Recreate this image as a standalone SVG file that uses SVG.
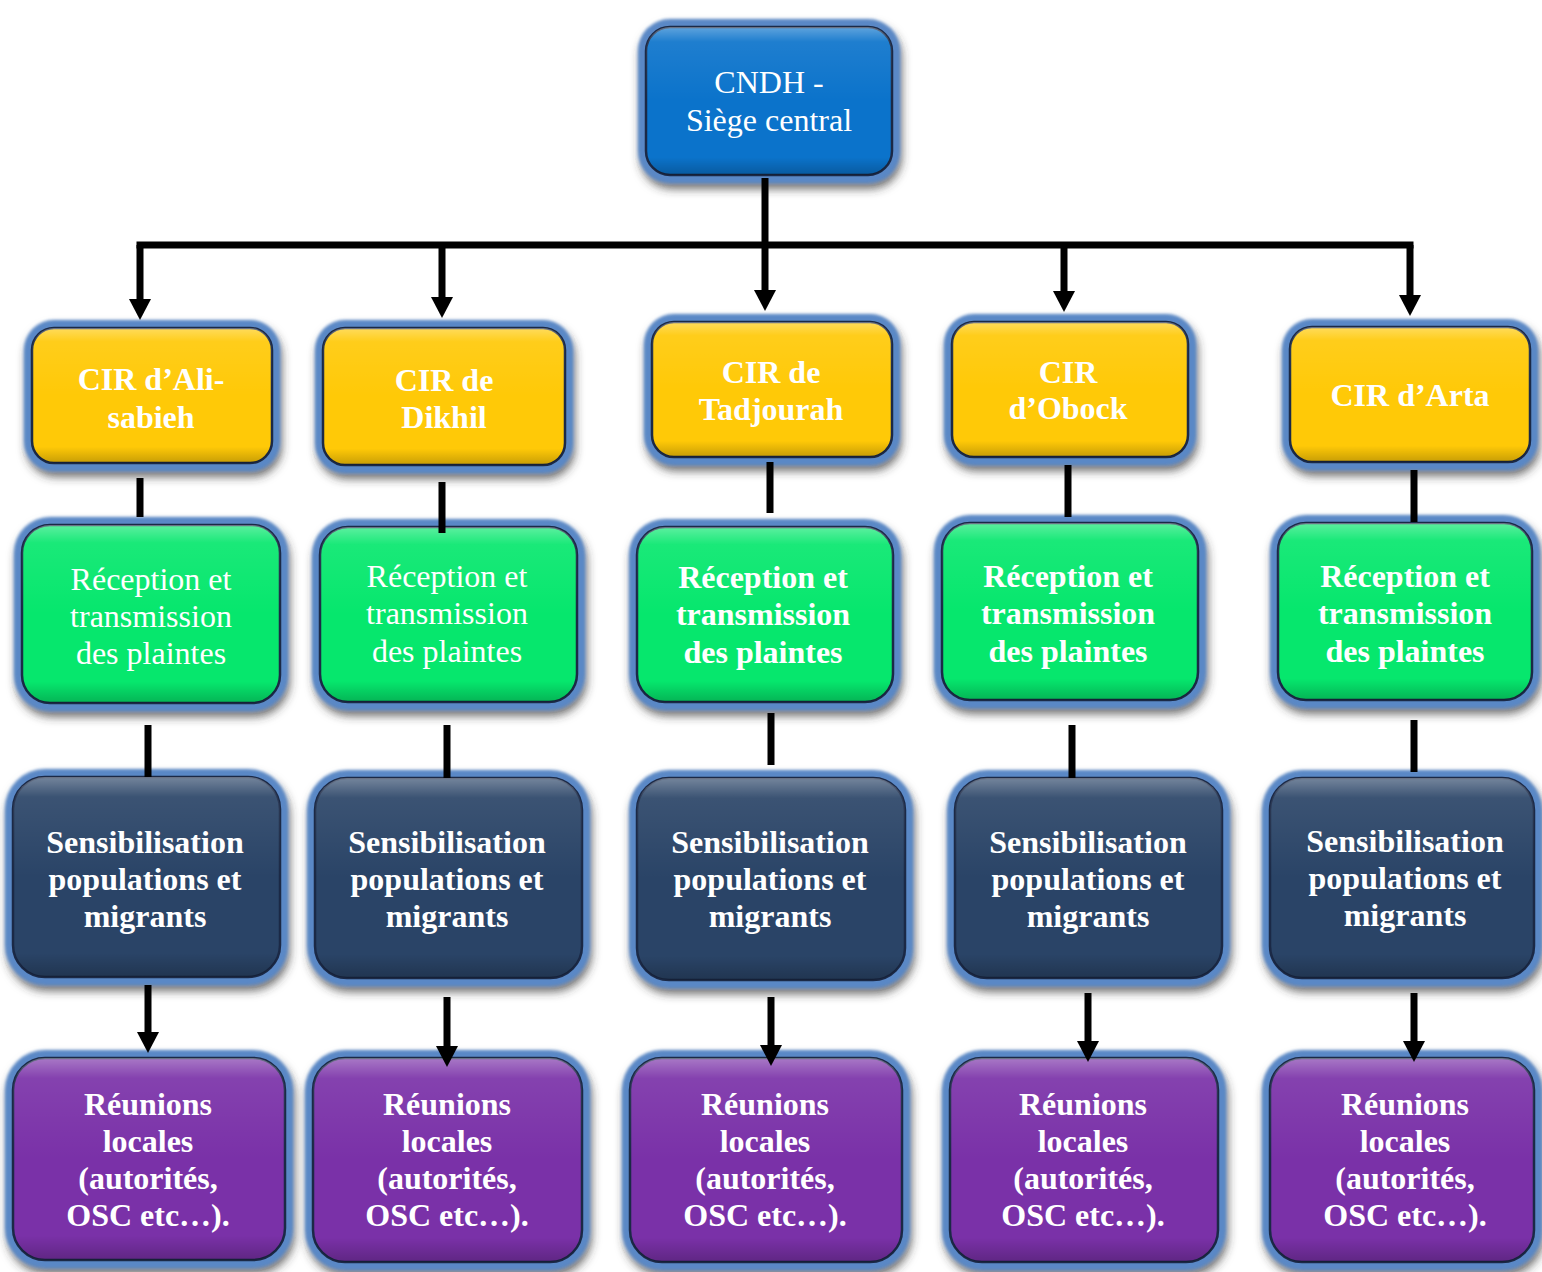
<svg xmlns="http://www.w3.org/2000/svg" width="1542" height="1272" viewBox="0 0 1542 1272">
<defs>
<style>
.rim{fill:#5a88c6;filter:url(#sh)}
.box{stroke:#1b2946;stroke-width:2.5}
.ov{fill:url(#ovl);pointer-events:none}
.blue{fill:#0b73cb}
.yel{fill:#ffc907}
.grn{fill:#06e76d}
.nav{fill:#2a4467}
.pur{fill:#7a31a8}
text{font-family:"Liberation Serif","Times New Roman",serif;font-size:32px;fill:#ffffff;text-anchor:middle}
.b{font-weight:bold}
.c{stroke:#000;stroke-width:7;fill:none;stroke-linecap:butt}
.a{marker-end:url(#ah)}
</style>
<filter id="sh" x="-10%" y="-10%" width="120%" height="130%">
<feGaussianBlur in="SourceAlpha" stdDeviation="5"/>
<feOffset dx="2" dy="6" result="b"/>
<feFlood flood-color="#333333" flood-opacity="0.7"/>
<feComposite in2="b" operator="in" result="s"/>
<feGaussianBlur in="SourceGraphic" stdDeviation="1.6" result="g"/>
<feMerge><feMergeNode in="s"/><feMergeNode in="g"/></feMerge>
</filter>
<linearGradient id="ovl" x1="0" y1="0" x2="0" y2="1">
<stop offset="0" stop-color="#ffffff" stop-opacity="0.35"/>
<stop offset="0.1" stop-color="#ffffff" stop-opacity="0.08"/>
<stop offset="0.5" stop-color="#ffffff" stop-opacity="0"/>
<stop offset="0.88" stop-color="#000000" stop-opacity="0"/>
<stop offset="1" stop-color="#000000" stop-opacity="0.22"/>
</linearGradient>
<marker id="ah" markerUnits="userSpaceOnUse" markerWidth="22" markerHeight="24" viewBox="0 0 22 24" refX="2" refY="12" orient="auto">
<path d="M0,1 L21,12 L0,23 z" fill="#000"/>
</marker>
</defs>
<rect width="1542" height="1272" fill="#ffffff"/>

<g id="n-top"><rect class="rim" x="638" y="19" width="262" height="164" rx="32"/><rect class="box blue" x="646" y="27" width="246" height="148" rx="24"/><rect class="ov" x="646" y="27" width="246" height="148" rx="24"/><text x="769" y="93">CNDH -</text><text x="769" y="131">Siège central</text></g>

<g id="n-y1"><rect class="rim" x="24" y="320" width="256" height="151" rx="30"/><rect class="box yel" x="32" y="328" width="240" height="135" rx="22"/><rect class="ov" x="32" y="328" width="240" height="135" rx="22"/><text class="b" x="151" y="390">CIR d’Ali-</text><text class="b" x="151" y="428">sabieh</text></g>
<g id="n-y2"><rect class="rim" x="315" y="320" width="258" height="153" rx="30"/><rect class="box yel" x="323" y="328" width="242" height="137" rx="22"/><rect class="ov" x="323" y="328" width="242" height="137" rx="22"/><text class="b" x="444" y="391">CIR de</text><text class="b" x="444" y="428">Dikhil</text></g>
<g id="n-y3"><rect class="rim" x="644" y="314" width="256" height="151" rx="30"/><rect class="box yel" x="652" y="322" width="240" height="135" rx="22"/><rect class="ov" x="652" y="322" width="240" height="135" rx="22"/><text class="b" x="771" y="383">CIR de</text><text class="b" x="771" y="420">Tadjourah</text></g>
<g id="n-y4"><rect class="rim" x="944" y="314" width="252" height="151" rx="30"/><rect class="box yel" x="952" y="322" width="236" height="135" rx="22"/><rect class="ov" x="952" y="322" width="236" height="135" rx="22"/><text class="b" x="1068" y="383">CIR</text><text class="b" x="1068" y="419">d’Obock</text></g>
<g id="n-y5"><rect class="rim" x="1282" y="319" width="256" height="151" rx="30"/><rect class="box yel" x="1290" y="327" width="240" height="135" rx="22"/><rect class="ov" x="1290" y="327" width="240" height="135" rx="22"/><text class="b" x="1410" y="406">CIR d’Arta</text></g>

<g id="n-g1"><rect class="rim" x="14" y="517" width="274" height="194" rx="36"/><rect class="box grn" x="22" y="525" width="258" height="178" rx="28"/><rect class="ov" x="22" y="525" width="258" height="178" rx="28"/><text x="151" y="590">Réception et</text><text x="151" y="627">transmission</text><text x="151" y="664">des plaintes</text></g>
<g id="n-g2"><rect class="rim" x="312" y="519" width="273" height="191" rx="36"/><rect class="box grn" x="320" y="527" width="257" height="175" rx="28"/><rect class="ov" x="320" y="527" width="257" height="175" rx="28"/><text x="447" y="587">Réception et</text><text x="447" y="624">transmission</text><text x="447" y="662">des plaintes</text></g>
<g id="n-g3"><rect class="rim" x="629" y="519" width="272" height="191" rx="36"/><rect class="box grn" x="637" y="527" width="256" height="175" rx="28"/><rect class="ov" x="637" y="527" width="256" height="175" rx="28"/><text class="b" x="763" y="588">Réception et</text><text class="b" x="763" y="625">transmission</text><text class="b" x="763" y="663">des plaintes</text></g>
<g id="n-g4"><rect class="rim" x="934" y="515" width="272" height="193" rx="36"/><rect class="box grn" x="942" y="523" width="256" height="177" rx="28"/><rect class="ov" x="942" y="523" width="256" height="177" rx="28"/><text class="b" x="1068" y="587">Réception et</text><text class="b" x="1068" y="624">transmission</text><text class="b" x="1068" y="662">des plaintes</text></g>
<g id="n-g5"><rect class="rim" x="1270" y="515" width="270" height="193" rx="36"/><rect class="box grn" x="1278" y="523" width="254" height="177" rx="28"/><rect class="ov" x="1278" y="523" width="254" height="177" rx="28"/><text class="b" x="1405" y="587">Réception et</text><text class="b" x="1405" y="624">transmission</text><text class="b" x="1405" y="662">des plaintes</text></g>

<g id="n-s1"><rect class="rim" x="5" y="769" width="283" height="216" rx="40"/><rect class="box nav" x="13" y="777" width="267" height="200" rx="32"/><rect class="ov" x="13" y="777" width="267" height="200" rx="32"/><text class="b" x="145" y="853">Sensibilisation</text><text class="b" x="145" y="890">populations et</text><text class="b" x="145" y="927">migrants</text></g>
<g id="n-s2"><rect class="rim" x="307" y="770" width="283" height="216" rx="40"/><rect class="box nav" x="315" y="778" width="267" height="200" rx="32"/><rect class="ov" x="315" y="778" width="267" height="200" rx="32"/><text class="b" x="447" y="853">Sensibilisation</text><text class="b" x="447" y="890">populations et</text><text class="b" x="447" y="927">migrants</text></g>
<g id="n-s3"><rect class="rim" x="629" y="770" width="284" height="218" rx="40"/><rect class="box nav" x="637" y="778" width="268" height="202" rx="32"/><rect class="ov" x="637" y="778" width="268" height="202" rx="32"/><text class="b" x="770" y="853">Sensibilisation</text><text class="b" x="770" y="890">populations et</text><text class="b" x="770" y="927">migrants</text></g>
<g id="n-s4"><rect class="rim" x="947" y="770" width="283" height="216" rx="40"/><rect class="box nav" x="955" y="778" width="267" height="200" rx="32"/><rect class="ov" x="955" y="778" width="267" height="200" rx="32"/><text class="b" x="1088" y="853">Sensibilisation</text><text class="b" x="1088" y="890">populations et</text><text class="b" x="1088" y="927">migrants</text></g>
<g id="n-s5"><rect class="rim" x="1262" y="770" width="280" height="216" rx="40"/><rect class="box nav" x="1270" y="778" width="264" height="200" rx="32"/><rect class="ov" x="1270" y="778" width="264" height="200" rx="32"/><text class="b" x="1405" y="852">Sensibilisation</text><text class="b" x="1405" y="889">populations et</text><text class="b" x="1405" y="926">migrants</text></g>

<g id="n-r1"><rect class="rim" x="5" y="1050" width="288" height="218" rx="40"/><rect class="box pur" x="13" y="1058" width="272" height="202" rx="32"/><rect class="ov" x="13" y="1058" width="272" height="202" rx="32"/><text class="b" x="148" y="1115">Réunions</text><text class="b" x="148" y="1152">locales</text><text class="b" x="148" y="1189">(autorités,</text><text class="b" x="148" y="1226">OSC etc…).</text></g>
<g id="n-r2"><rect class="rim" x="305" y="1050" width="285" height="220" rx="40"/><rect class="box pur" x="313" y="1058" width="269" height="204" rx="32"/><rect class="ov" x="313" y="1058" width="269" height="204" rx="32"/><text class="b" x="447" y="1115">Réunions</text><text class="b" x="447" y="1152">locales</text><text class="b" x="447" y="1189">(autorités,</text><text class="b" x="447" y="1226">OSC etc…).</text></g>
<g id="n-r3"><rect class="rim" x="622" y="1050" width="288" height="220" rx="40"/><rect class="box pur" x="630" y="1058" width="272" height="204" rx="32"/><rect class="ov" x="630" y="1058" width="272" height="204" rx="32"/><text class="b" x="765" y="1115">Réunions</text><text class="b" x="765" y="1152">locales</text><text class="b" x="765" y="1189">(autorités,</text><text class="b" x="765" y="1226">OSC etc…).</text></g>
<g id="n-r4"><rect class="rim" x="942" y="1050" width="284" height="220" rx="40"/><rect class="box pur" x="950" y="1058" width="268" height="204" rx="32"/><rect class="ov" x="950" y="1058" width="268" height="204" rx="32"/><text class="b" x="1083" y="1115">Réunions</text><text class="b" x="1083" y="1152">locales</text><text class="b" x="1083" y="1189">(autorités,</text><text class="b" x="1083" y="1226">OSC etc…).</text></g>
<g id="n-r5"><rect class="rim" x="1262" y="1050" width="280" height="220" rx="40"/><rect class="box pur" x="1270" y="1058" width="264" height="204" rx="32"/><rect class="ov" x="1270" y="1058" width="264" height="204" rx="32"/><text class="b" x="1405" y="1115">Réunions</text><text class="b" x="1405" y="1152">locales</text><text class="b" x="1405" y="1189">(autorités,</text><text class="b" x="1405" y="1226">OSC etc…).</text></g>

<g id="connectors">
<path class="c" d="M136.5,245 H1413.5"/>
<path class="c a" d="M765,178 V292"/>
<path class="c a" d="M140,245 V301"/>
<path class="c a" d="M442,245 V299"/>
<path class="c a" d="M1064,245 V293"/>
<path class="c a" d="M1410,245 V297"/>
<path class="c" d="M140,478 V517"/>
<path class="c" d="M442,482 V533"/>
<path class="c" d="M770,462 V513"/>
<path class="c" d="M1068,465 V517"/>
<path class="c" d="M1414,470 V522"/>
<path class="c" d="M148,725 V777"/>
<path class="c" d="M447,725 V778"/>
<path class="c" d="M771,713 V765"/>
<path class="c" d="M1072,725 V778"/>
<path class="c" d="M1414,720 V772"/>
<path class="c a" d="M148,985 V1034"/>
<path class="c a" d="M447,997 V1048"/>
<path class="c a" d="M771,997 V1047"/>
<path class="c a" d="M1088,993 V1043"/>
<path class="c a" d="M1414,993 V1043"/>
</g>
</svg>
